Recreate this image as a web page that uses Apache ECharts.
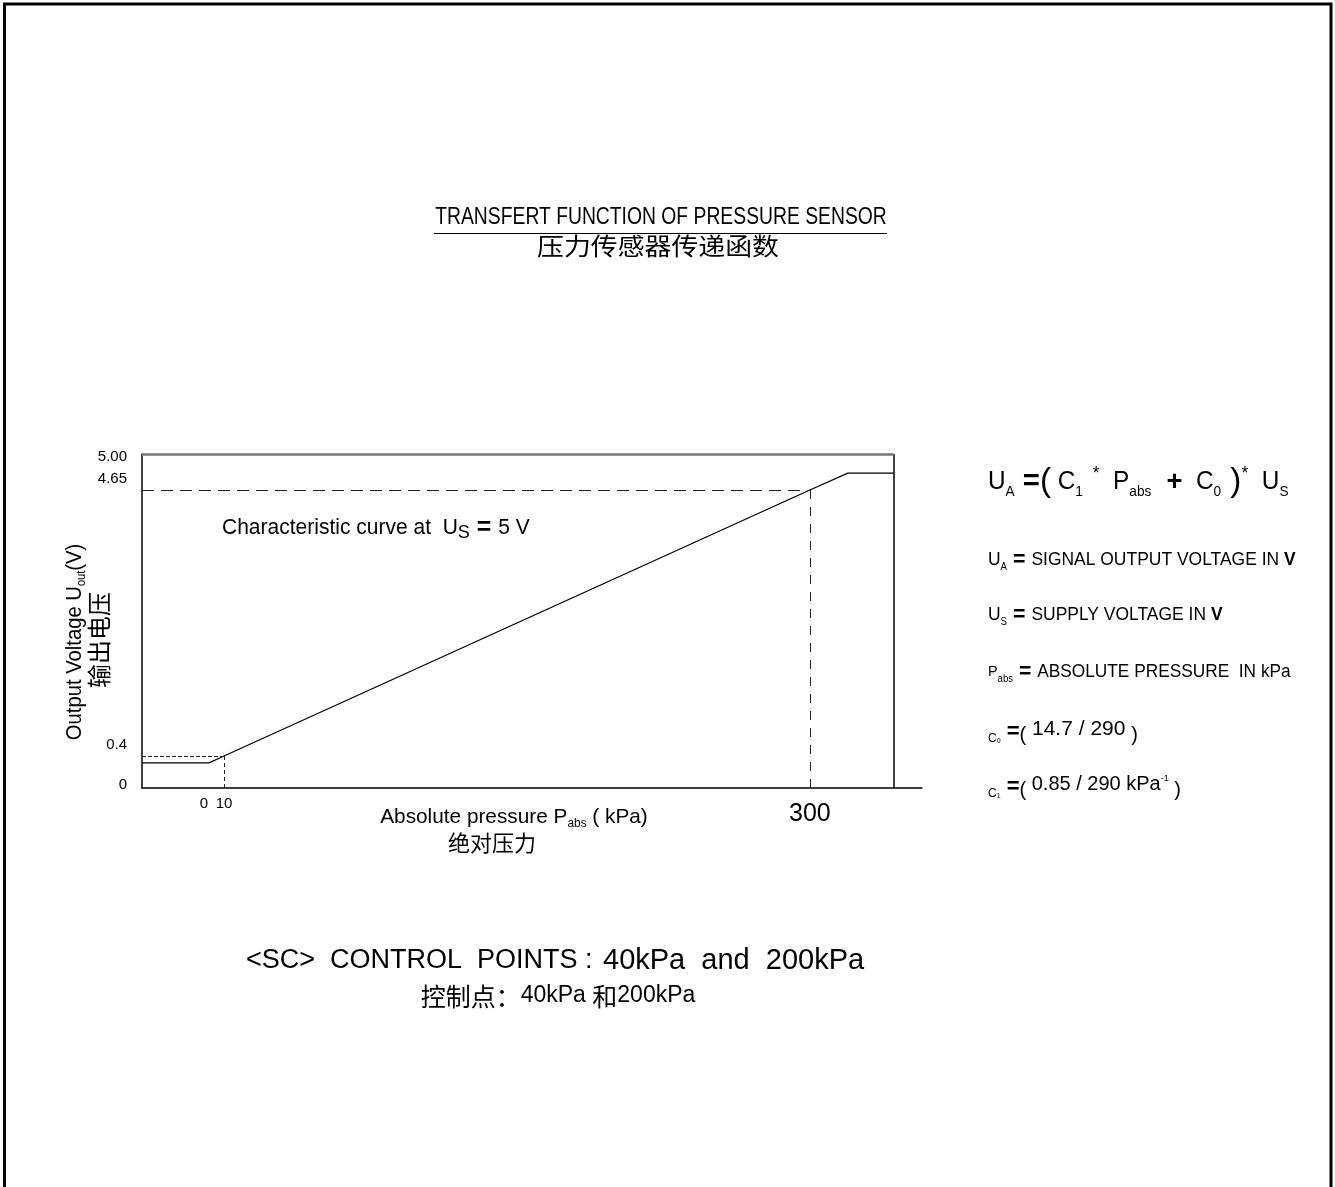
<!DOCTYPE html>
<html>
<head>
<meta charset="utf-8">
<script src="https://cdn.jsdelivr.net/npm/echarts@6/dist/echarts.min.js"></script>
<style>
  html, body { margin: 0; padding: 0; background: #fff; }
  #chart { width: 1335px; height: 1187px; }
</style>
</head>
<body>
<div id="chart"></div>
<script>
// Characteristic curve of the sensor: absolute pressure (kPa) -> output voltage (V)
const curvePressure = [-30.6, 2.6, 10, 300, 318.8, 341.6];
const curveVoltage  = [0.29, 0.29, 0.4, 4.65, 4.92, 4.92];

// Points marked with dashed guide lines
const guidePressure = [10, 300];
const guideVoltage  = [0.4, 4.65];

// Tick labels
const xTickValues = [0, 10, 300];
const xTickLabels = ['0', '10', '300'];
const yTickValues = [0, 0.4, 4.65, 5];
const yTickLabels = ['0', '0.4', '4.65', '5.00'];

// Extent of the plot frame (axis line runs a little past the right border)
const X_MIN = -30.6, X_FRAME = 341.6, X_MAX = 355.5;
const Y_MIN = -0.111, Y_MAX = 5.225;

const SANS = "'Liberation Sans', Arial, 'Noto Sans CJK SC', sans-serif";
const CJK = "'Noto Sans CJK SC', sans-serif";
const BLACK = '#000';

function labelFor(values, labels, v) {
  for (let i = 0; i < values.length; i++) {
    if (Math.abs(values[i] - v) < 1e-9) return labels[i];
  }
  return '';
}

// text block helper; narrow lettering is obtained with a horizontal squeeze
function txt(x, y, text, opts) {
  opts = opts || {};
  return {
    type: 'text', x: x, y: y, silent: true,
    rotation: opts.rotation || 0,
    scaleX: opts.scaleX || 1,
    style: {
      text: text,
      fontFamily: opts.fontFamily || SANS,
      fontSize: opts.fontSize || 18,
      fontWeight: opts.fontWeight || 'normal',
      fill: BLACK,
      align: opts.align || 'left',
      verticalAlign: 'middle',
      rich: opts.rich
    }
  };
}

// rich styles for subscripts / symbols
const sub = (size, lh) => ({ fontFamily: SANS, fontSize: size, verticalAlign: 'bottom', lineHeight: lh || size, fill: BLACK });
const sup = (size) => ({ fontFamily: SANS, fontSize: size, verticalAlign: 'top', lineHeight: size, fill: BLACK });
const main = (size, lh) => ({ fontFamily: SANS, fontSize: size, lineHeight: lh, fill: BLACK });
const bold = (size, lh) => ({ fontFamily: SANS, fontSize: size, fontWeight: 'bold', lineHeight: lh, fill: BLACK });

const chart = echarts.init(document.getElementById('chart'), null, { renderer: 'canvas' });

const dash = (p1, p2, pattern) => [
  { coord: p1, lineStyle: { type: pattern, color: '#222', width: 1 } },
  { coord: p2 }
];

const option = {
  backgroundColor: '#fff',
  animation: false,
  grid: { left: 142, right: 1335 - 922, top: 454, bottom: 1187 - 788 },
  xAxis: {
    type: 'value',
    min: X_MIN,
    max: X_MAX,
    splitLine: { show: false },
    axisTick: { show: false },
    axisLine: { show: true, onZero: false, lineStyle: { color: BLACK, width: 1.5 } },
    axisLabel: {
      customValues: xTickValues,
      margin: 8,
      color: BLACK,
      fontFamily: SANS,
      fontSize: 15,
      formatter: v => {
        const t = labelFor(xTickValues, xTickLabels, v);
        return v === 300 ? '{big|' + t + '}' : t;
      },
      rich: { big: { fontFamily: SANS, fontSize: 25, padding: [6, 0, 0, 0], color: BLACK } }
    }
  },
  yAxis: {
    type: 'value',
    min: Y_MIN,
    max: Y_MAX,
    splitLine: { show: false },
    axisTick: { show: false },
    axisLine: { show: true, onZero: false, lineStyle: { color: BLACK, width: 1.5 } },
    axisLabel: {
      customValues: yTickValues,
      margin: 15,
      color: BLACK,
      fontFamily: SANS,
      fontSize: 15,
      formatter: v => {
        const t = labelFor(yTickValues, yTickLabels, v);
        return v === 0 ? '{z|' + t + '}' : '{up|' + t + '}';
      },
      rich: {
        up: { fontFamily: SANS, fontSize: 15, padding: [0, 0, 22, 0], color: BLACK },
        z: { fontFamily: SANS, fontSize: 15, padding: [8, 0, 0, 0], color: BLACK }
      }
    }
  },
  series: [
    {
      type: 'line',
      data: curvePressure.map((p, i) => [p, curveVoltage[i]]),
      symbol: 'none',
      clip: false,
      lineStyle: { color: BLACK, width: 1.3 },
      markLine: {
        silent: true,
        symbol: 'none',
        label: { show: false },
        data: [
          // dashed guides at the two reference points
          dash([X_MIN, guideVoltage[1]], [guidePressure[1], guideVoltage[1]], [12, 7]),
          dash([guidePressure[1], guideVoltage[1]], [guidePressure[1], Y_MIN], [9, 8]),
          dash([X_MIN, guideVoltage[0]], [guidePressure[0], guideVoltage[0]], [4, 2]),
          dash([guidePressure[0], guideVoltage[0]], [guidePressure[0], Y_MIN], [4, 3]),
          // frame: right border and top border
          [
            { coord: [X_FRAME, Y_MIN], lineStyle: { type: 'solid', color: BLACK, width: 1.5 } },
            { coord: [X_FRAME, Y_MAX] }
          ],
          [
            { coord: [X_MIN, Y_MAX], lineStyle: { type: 'solid', color: '#777', width: 2.5 } },
            { coord: [X_FRAME, Y_MAX] }
          ]
        ]
      }
    }
  ],
  graphic: [
    // outer frame
    {
      type: 'rect', silent: true,
      shape: { x: 4.5, y: 4, width: 1326.5, height: 1260 },
      style: { fill: 'none', stroke: BLACK, lineWidth: 3 }
    },
    // title
    txt(661, 218, 'TRANSFERT FUNCTION OF PRESSURE SENSOR', { fontSize: 23, scaleX: 0.84, align: 'center' }),
    {
      type: 'line', silent: true,
      shape: { x1: 434, y1: 233.5, x2: 887, y2: 233.5 },
      style: { stroke: BLACK, lineWidth: 1 }
    },
    txt(658, 246, '压力传感器传递函数', { fontFamily: CJK, fontSize: 24, scaleX: 1.12, align: 'center' }),

    // y axis title
    txt(75, 642, '{m|Output Voltage U}{s|out}{m|(V)}', {
      rotation: Math.PI / 2, scaleX: 0.92, align: 'center',
      rich: { m: main(22, 26), s: sub(12) }
    }),
    txt(99, 640, '输出电压', { fontFamily: CJK, fontSize: 24, rotation: Math.PI / 2, align: 'center' }),

    // x axis title
    txt(514, 817, '{m|Absolute pressure P}{s|abs}{m| ( kPa)}', {
      scaleX: 0.99, align: 'center',
      rich: { m: main(21, 26), s: sub(12) }
    }),
    txt(492, 843, '绝对压力', { fontFamily: CJK, fontSize: 22, align: 'center' }),

    // curve annotation
    txt(222, 528, '{m|Characteristic curve at  U}{s|S}{eq| = }{m|5 V}', {
      scaleX: 0.955,
      rich: { m: main(22, 28), s: sub(19, 16), eq: bold(26, 28) }
    }),

    // transfer function
    txt(988, 482, '{m|U}{s|A}{eq| =}{pa|(}{m| C}{s|1}{sp|  *}{m|  P}{s|abs}{pl|  +}{m|  C}{s|0}{pa| )}{sp|*}{m|  U}{s|S}', {
      scaleX: 0.975,
      rich: {
        m: main(25, 34), s: sub(14, 12), sp: sup(18),
        eq: bold(30, 34), pl: bold(28, 34), pa: main(34, 34)
      }
    }),

    // definitions
    txt(988, 560, '{m|U}{s|A}{eq| = }{m|SIGNAL OUTPUT VOLTAGE IN }{v|V}', {
      scaleX: 0.97,
      rich: { m: main(18, 24), s: sub(10), eq: bold(22, 24), v: bold(18, 24) }
    }),
    txt(988, 615, '{m|U}{s|S}{eq| = }{m|SUPPLY VOLTAGE IN }{v|V}', {
      scaleX: 0.97,
      rich: { m: main(18, 24), s: sub(10), eq: bold(22, 24), v: bold(18, 24) }
    }),
    txt(988, 672, '{p|P}{s|abs}{eq| = }{m|ABSOLUTE PRESSURE  IN kPa}', {
      scaleX: 0.96,
      rich: { m: main(18, 24), p: main(15, 24), s: sub(10), eq: bold(22, 24) }
    }),
    txt(988, 732, '{c|C}{s|0}{eq| =}{pa|(}{m| 14.7 / 290 }{pa|)}', {
      scaleX: 1.0,
      rich: {
        m: Object.assign(main(21, 22), { verticalAlign: 'top' }),
        c: sub(12, 14), s: sub(7, 9), eq: bold(22, 26),
        pa: Object.assign(main(20, 22), { verticalAlign: 'bottom' })
      }
    }),
    txt(988, 787, '{c|C}{s|1}{eq| =}{pa|(}{m| 0.85 / 290 kPa}{sp|-1}{m| }{pa|)}', {
      scaleX: 1.0,
      rich: {
        m: Object.assign(main(20, 22), { verticalAlign: 'top' }),
        sp: sup(9), c: sub(12, 14), s: sub(7, 9), eq: bold(22, 26),
        pa: Object.assign(main(20, 22), { verticalAlign: 'bottom' })
      }
    }),

    // control points note
    txt(246, 961, '<SC>  CONTROL  POINTS :', { fontSize: 27 }),
    txt(603, 961, '40kPa  and  200kPa', { fontSize: 29 }),
    txt(558, 996, '{c|控制点：}{n|40kPa }{c|和}{n|200kPa}', {
      align: 'center',
      rich: { c: { fontFamily: CJK, fontSize: 25, fill: BLACK }, n: { fontFamily: SANS, fontSize: 23, fill: BLACK } }
    })
  ]
};

chart.setOption(option);
</script>
</body>
</html>
